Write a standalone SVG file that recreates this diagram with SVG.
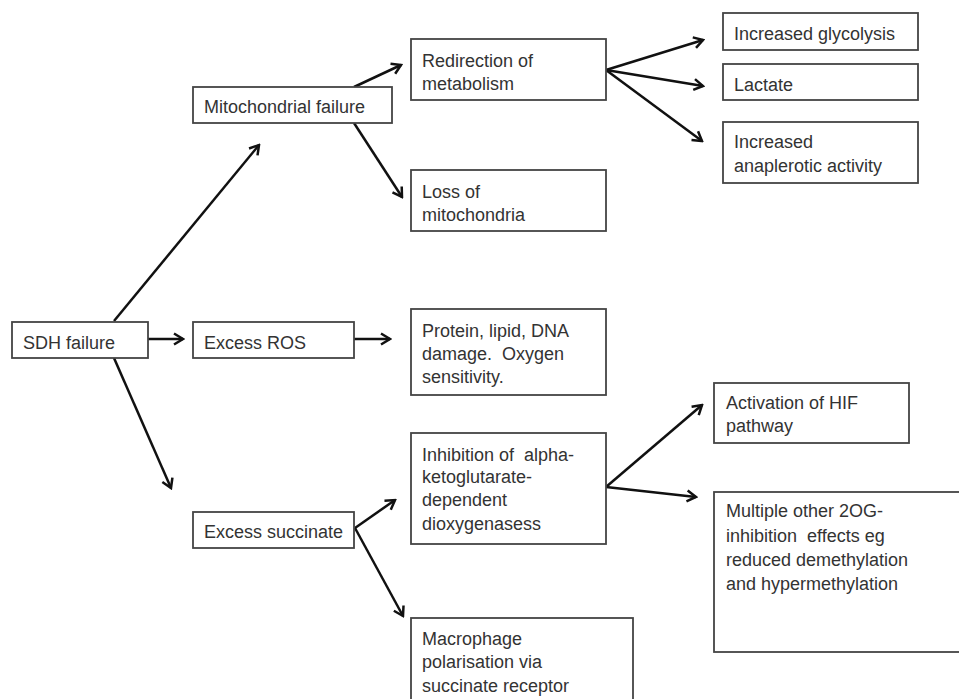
<svg xmlns="http://www.w3.org/2000/svg" width="959" height="699" viewBox="0 0 959 699">
<style>
.box{fill:#fff;stroke:#444;stroke-width:1.8}
.t{font-family:"Liberation Sans",Arial,sans-serif;font-size:18px;fill:#333}
.c{stroke:#111;stroke-width:2.5;fill:none;marker-end:url(#ah)}
</style>
<defs>
<marker id="ah" markerUnits="userSpaceOnUse" viewBox="0 0 14 14" refX="12" refY="7" markerWidth="14" markerHeight="14" orient="auto">
<path d="M3,1.5 L12,7 L3,12.5" fill="none" stroke="#111" stroke-width="2.5" stroke-linejoin="miter"/>
</marker>
</defs>
<rect width="959" height="699" fill="#fff"/>
<g id="connectors">
<line class="c" x1="114" y1="321" x2="259" y2="145"/>
<line class="c" x1="148" y1="339" x2="183" y2="339"/>
<line class="c" x1="114" y1="358" x2="171" y2="488"/>
<line class="c" x1="354" y1="87" x2="401" y2="65"/>
<line class="c" x1="354" y1="123" x2="402" y2="197"/>
<line class="c" x1="606" y1="70" x2="703" y2="40"/>
<line class="c" x1="606" y1="70" x2="703" y2="86"/>
<line class="c" x1="606" y1="70" x2="702" y2="141"/>
<line class="c" x1="354" y1="339" x2="390" y2="339"/>
<line class="c" x1="355" y1="528" x2="395" y2="500"/>
<line class="c" x1="355" y1="528" x2="403" y2="616"/>
<line class="c" x1="606" y1="487" x2="702" y2="405"/>
<line class="c" x1="606" y1="487" x2="696" y2="497"/>
</g>
<g id="sdh"><rect class="box" x="12" y="322" width="136" height="36"/><text class="t" x="23" y="349">SDH failure</text></g>
<g id="mito"><rect class="box" x="193" y="87" width="199" height="36"/><text class="t" x="204" y="113">Mitochondrial failure</text></g>
<g id="ros"><rect class="box" x="193" y="322" width="161" height="36"/><text class="t" x="204" y="349">Excess ROS</text></g>
<g id="succ"><rect class="box" x="193" y="512" width="161" height="36"/><text class="t" x="204" y="538">Excess succinate</text></g>
<g id="redir"><rect class="box" x="411" y="39" width="195" height="61"/><text class="t" x="422" y="67">Redirection of</text><text class="t" x="422" y="90">metabolism</text></g>
<g id="loss"><rect class="box" x="411" y="170" width="195" height="61"/><text class="t" x="422" y="198">Loss of</text><text class="t" x="422" y="221">mitochondria</text></g>
<g id="protein"><rect class="box" x="411" y="309" width="195" height="86"/><text class="t" x="422" y="337">Protein, lipid, DNA</text><text class="t" x="422" y="360" xml:space="preserve">damage.  Oxygen</text><text class="t" x="422" y="383">sensitivity.</text></g>
<g id="inhib"><rect class="box" x="411" y="433" width="195" height="111"/><text class="t" x="422" y="461" xml:space="preserve">Inhibition of  alpha-</text><text class="t" x="422" y="483">ketoglutarate-</text><text class="t" x="422" y="506">dependent</text><text class="t" x="422" y="530">dioxygenasess</text></g>
<g id="macro"><rect class="box" x="411" y="618" width="222" height="95"/><text class="t" x="422" y="645">Macrophage</text><text class="t" x="422" y="668">polarisation via</text><text class="t" x="422" y="692">succinate receptor</text></g>
<g id="glyco"><rect class="box" x="723" y="13" width="195" height="37"/><text class="t" x="734" y="40">Increased glycolysis</text></g>
<g id="lactate"><rect class="box" x="723" y="64" width="195" height="36"/><text class="t" x="734" y="91">Lactate</text></g>
<g id="anap"><rect class="box" x="723" y="122" width="195" height="61"/><text class="t" x="734" y="148">Increased</text><text class="t" x="734" y="172">anaplerotic activity</text></g>
<g id="hif"><rect class="box" x="714" y="383" width="195" height="60"/><text class="t" x="726" y="409">Activation of HIF</text><text class="t" x="726" y="432">pathway</text></g>
<g id="multi"><rect class="box" x="714" y="492" width="260" height="160"/><text class="t" x="726" y="517">Multiple other 2OG-</text><text class="t" x="726" y="542" xml:space="preserve">inhibition  effects eg</text><text class="t" x="726" y="566">reduced demethylation</text><text class="t" x="726" y="590">and hypermethylation</text></g>
</svg>
